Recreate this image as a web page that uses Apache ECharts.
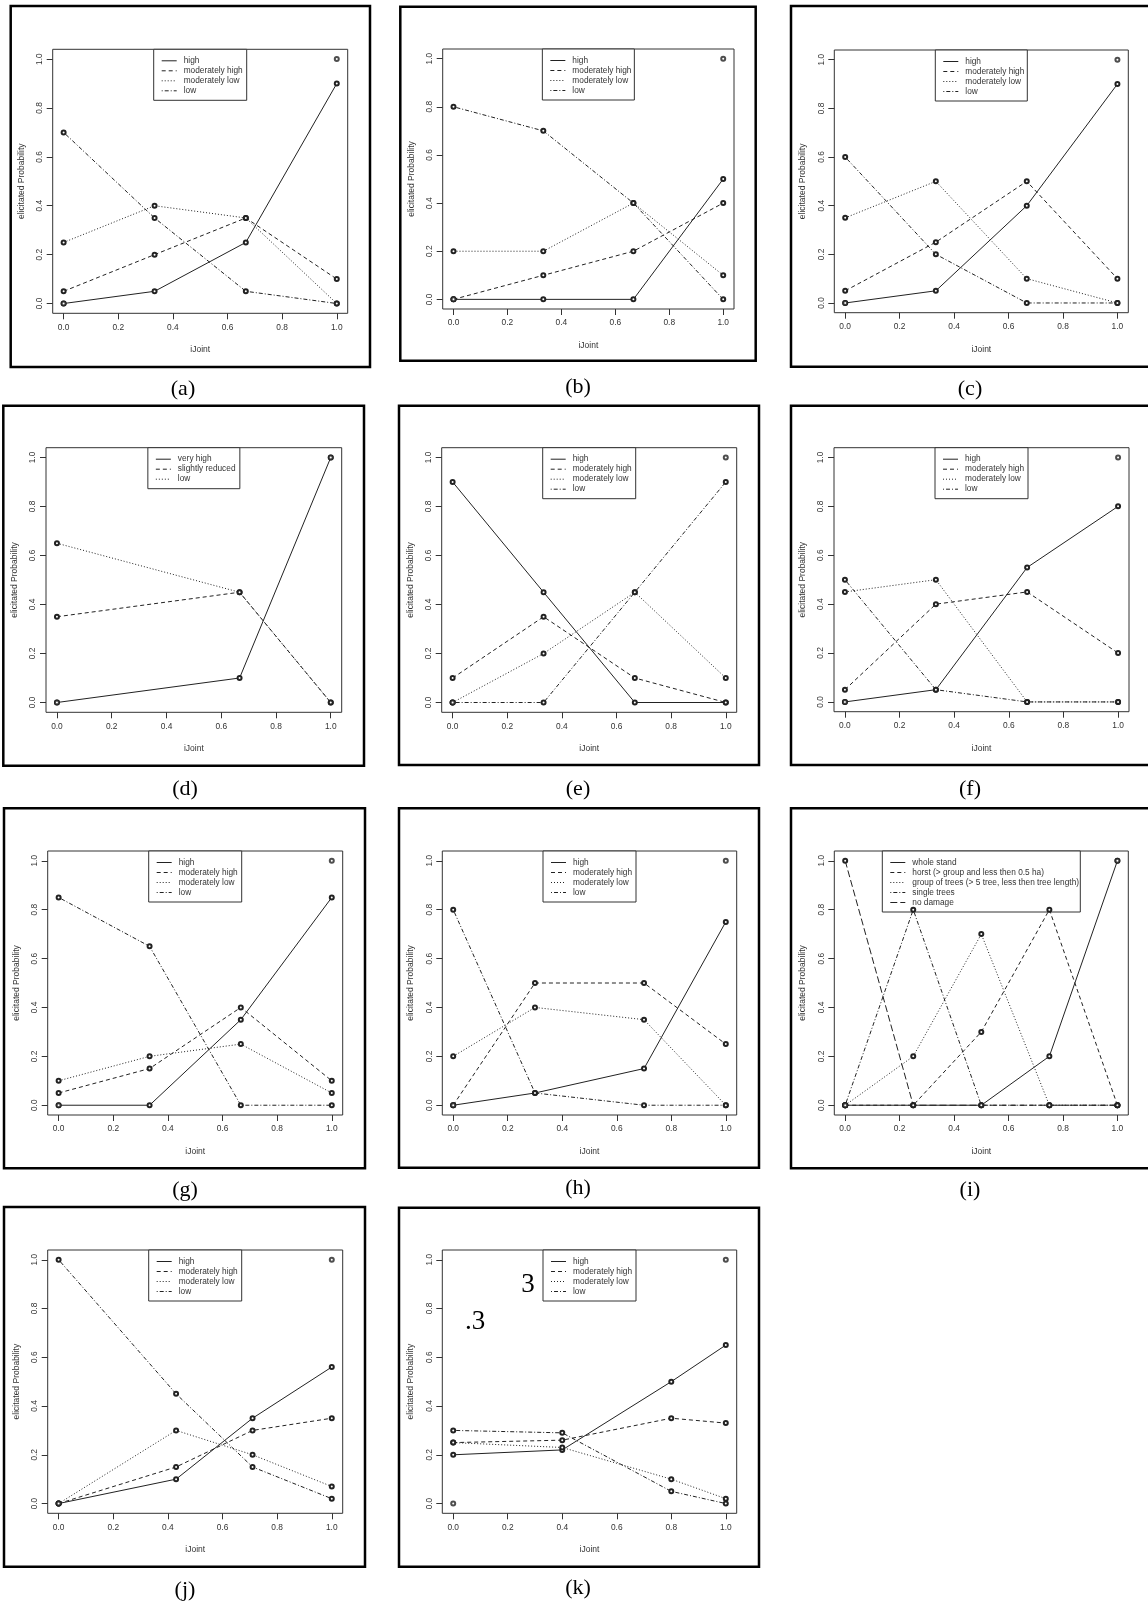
<!DOCTYPE html>
<html><head><meta charset="utf-8">
<script src="https://cdn.jsdelivr.net/npm/echarts@6/dist/echarts.min.js"></script>
<style>html,body{margin:0;padding:0;background:#fff}#c{width:1148px;height:1605px}</style>
</head><body><div id="c"></div>
<script>
// ---------- data ----------
const tickValues = [0, 0.2, 0.4, 0.6, 0.8, 1.0];
const cornerPts = [[0, 0], [1, 1]];
const namesHML = ['high', 'moderately high', 'moderately low', 'low'];
const namesD = ['very high', 'slightly reduced', 'low'];
const namesI = ['whole stand', 'horst (> group and less then 0.5 ha)', 'group of trees (> 5 tree, less then tree length)', 'single trees', 'no damage'];
const xThirds = [0, 0.333, 0.667, 1];
const xD = [0, 0.667, 1];
const xH = [0, 0.3, 0.7, 1];
const xI = [0, 0.25, 0.5, 0.75, 1];
const xJ = [0, 0.43, 0.71, 1];
const xK = [0, 0.4, 0.8, 1];

const aHigh = [0, 0.05, 0.25, 0.9];
const aModHigh = [0.05, 0.2, 0.35, 0.1];
const aModLow = [0.25, 0.4, 0.35, 0.0];
const aLow = [0.7, 0.35, 0.05, 0.0];

const bHigh = [0, 0, 0, 0.5];
const bModHigh = [0, 0.1, 0.2, 0.4];
const bModLow = [0.2, 0.2, 0.4, 0.1];
const bLow = [0.8, 0.7, 0.4, 0.0];

const cHigh = [0, 0.05, 0.4, 0.9];
const cModHigh = [0.05, 0.25, 0.5, 0.1];
const cModLow = [0.35, 0.5, 0.1, 0.0];
const cLow = [0.6, 0.2, 0.0, 0.0];

const dVeryHigh = [0, 0.1, 1.0];
const dSlightly = [0.35, 0.45, 0.0];
const dLow = [0.65, 0.45, 0.0];

const eHigh = [0.9, 0.45, 0, 0];
const eModHigh = [0.1, 0.35, 0.1, 0.0];
const eModLow = [0, 0.2, 0.45, 0.1];
const eLow = [0, 0, 0.45, 0.9];

const fHigh = [0, 0.05, 0.55, 0.8];
const fModHigh = [0.05, 0.4, 0.45, 0.2];
const fModLow = [0.45, 0.5, 0.0, 0.0];
const fLow = [0.5, 0.05, 0.0, 0.0];

const gHigh = [0, 0, 0.35, 0.85];
const gModHigh = [0.05, 0.15, 0.4, 0.1];
const gModLow = [0.1, 0.2, 0.25, 0.05];
const gLow = [0.85, 0.65, 0, 0];

const hHigh = [0, 0.05, 0.15, 0.75];
const hModHigh = [0, 0.5, 0.5, 0.25];
const hModLow = [0.2, 0.4, 0.35, 0.0];
const hLow = [0.8, 0.05, 0.0, 0.0];

const iWhole = [0, 0, 0, 0.2, 1.0];
const iHorst = [0, 0, 0.3, 0.8, 0];
const iGroup = [0, 0.2, 0.7, 0, 0];
const iSingle = [0, 0.8, 0, 0, 0];
const iNoDamage = [1.0, 0, 0, 0, 0];

const jHigh = [0, 0.1, 0.35, 0.56];
const jModHigh = [0, 0.15, 0.3, 0.35];
const jModLow = [0, 0.3, 0.2, 0.07];
const jLow = [1.0, 0.45, 0.15, 0.02];

const kHigh = [0.2, 0.22, 0.5, 0.65];
const kModHigh = [0.25, 0.26, 0.35, 0.33];
const kModLow = [0.25, 0.23, 0.1, 0.02];
const kLow = [0.3, 0.29, 0.05, 0.0];

const panelTags = ['(a)', '(b)', '(c)', '(d)', '(e)', '(f)', '(g)', '(h)', '(i)', '(j)', '(k)'];
const xAxisTitle = 'iJoint';
const yAxisTitle = 'elicitated Probability';

// ---------- styles ----------
const LTY = { solid: 'solid', dashed: [4, 3], dotted: [1, 2], dotdash: [1, 2, 4, 2], longdash: [7, 3] };
const ltyHML = [LTY.solid, LTY.dashed, LTY.dotted, LTY.dotdash];
const ltyD = [LTY.solid, LTY.dashed, LTY.dotted];
const ltyI = [LTY.solid, LTY.dashed, LTY.dotted, LTY.dotdash, LTY.longdash];

const panels = [
  { x: xThirds, names: namesHML, ys: [aHigh, aModHigh, aModLow, aLow], lty: ltyHML },
  { x: xThirds, names: namesHML, ys: [bHigh, bModHigh, bModLow, bLow], lty: ltyHML },
  { x: xThirds, names: namesHML, ys: [cHigh, cModHigh, cModLow, cLow], lty: ltyHML },
  { x: xD, names: namesD, ys: [dVeryHigh, dSlightly, dLow], lty: ltyD },
  { x: xThirds, names: namesHML, ys: [eHigh, eModHigh, eModLow, eLow], lty: ltyHML },
  { x: xThirds, names: namesHML, ys: [fHigh, fModHigh, fModLow, fLow], lty: ltyHML },
  { x: xThirds, names: namesHML, ys: [gHigh, gModHigh, gModLow, gLow], lty: ltyHML },
  { x: xH, names: namesHML, ys: [hHigh, hModHigh, hModLow, hLow], lty: ltyHML },
  { x: xI, names: namesI, ys: [iWhole, iHorst, iGroup, iSingle, iNoDamage], lty: ltyI },
  { x: xJ, names: namesHML, ys: [jHigh, jModHigh, jModLow, jLow], lty: ltyHML },
  { x: xK, names: namesHML, ys: [kHigh, kModHigh, kModLow, kLow], lty: ltyHML }
];

// layout: plot [left, top, width, height], box [x, y, w, h], tag [cx, cy], legend width
const layouts = [
  { plot: [52.7, 49.3, 295, 264], box: [10.7, 6, 359.3, 361], tag: [183, 389], lw: 93 },
  { plot: [442.7, 49, 291.3, 260], box: [400.3, 6.7, 355.4, 354], tag: [578, 387], lw: 92 },
  { plot: [834.3, 50, 294, 262.7], box: [791, 6, 370, 360.7], tag: [970, 389], lw: 92 },
  { plot: [46, 447.7, 295.7, 264.6], box: [3.3, 405.7, 360.7, 360], tag: [185, 789], lw: 92 },
  { plot: [441.7, 447.7, 295, 264.6], box: [399, 405.7, 360, 359.3], tag: [578, 789], lw: 93 },
  { plot: [834, 447.7, 295, 264], box: [791, 405.7, 370, 359.3], tag: [970, 789], lw: 93 },
  { plot: [47.7, 851, 295, 264], box: [4, 808.3, 361, 360], tag: [185, 1190], lw: 93 },
  { plot: [442.3, 851, 294.4, 264], box: [399, 808.3, 360, 359.4], tag: [578, 1188], lw: 93 },
  { plot: [834.3, 851, 294, 264], box: [791, 808.3, 370, 360], tag: [970, 1190], lw: 198 },
  { plot: [47.7, 1250, 295, 263.3], box: [4, 1207, 361, 359.7], tag: [185, 1590], lw: 93 },
  { plot: [442.3, 1250, 294.4, 263.3], box: [399, 1207.7, 360, 359], tag: [578, 1588], lw: 93 }
];

const INK = '#222';
const TXT = '#333';
const SANS = '"Liberation Sans", Arial, sans-serif';
const SERIF = '"Liberation Serif", "DejaVu Serif", serif';

const grids = [], xAxes = [], yAxes = [], series = [], graphics = [];

panels.forEach((p, i) => {
  const L = layouts[i];
  grids.push({ left: L.plot[0], top: L.plot[1], width: L.plot[2], height: L.plot[3],
    show: true, borderColor: '#333', borderWidth: 1, backgroundColor: 'transparent' });
  const tickCommon = { show: true, inside: false, customValues: tickValues, length: 6, lineStyle: { color: '#333', width: 1 } };
  xAxes.push({ type: 'value', gridIndex: i, min: -0.04, max: 1.04, position: 'bottom',
    axisLine: { show: false, onZero: false }, splitLine: { show: false },
    axisTick: tickCommon,
    axisLabel: { customValues: tickValues, formatter: v => v.toFixed(1), fontSize: 8.4, color: TXT, fontFamily: SANS, margin: 10 },
    name: xAxisTitle, nameLocation: 'middle', nameGap: 32,
    nameTextStyle: { fontSize: 8.5, color: TXT, fontFamily: SANS } });
  yAxes.push({ type: 'value', gridIndex: i, min: -0.04, max: 1.04, position: 'left',
    axisLine: { show: false, onZero: false }, splitLine: { show: false },
    axisTick: tickCommon,
    axisLabel: { customValues: tickValues, formatter: v => v.toFixed(1), fontSize: 8.4, color: TXT, fontFamily: SANS, margin: 9, rotate: 90 },
    name: yAxisTitle, nameLocation: 'middle', nameGap: 27, nameRotate: 90,
    nameTextStyle: { fontSize: 8.5, color: TXT, fontFamily: SANS } });

  p.ys.forEach((ys, k) => {
    series.push({ type: 'line', name: p.names[k], xAxisIndex: i, yAxisIndex: i,
      data: p.x.map((xv, j) => [xv, ys[j]]),
      symbol: 'emptyCircle', symbolSize: 4, showSymbol: true,
      lineStyle: { color: INK, width: 1, type: p.lty[k] },
      itemStyle: { color: INK, borderWidth: 0.9 }, emphasis: { disabled: true }, z: 3 });
  });
  series.push({ type: 'scatter', name: 'frame', xAxisIndex: i, yAxisIndex: i,
    data: cornerPts, symbol: 'emptyCircle', symbolSize: 4,
    itemStyle: { color: INK, borderWidth: 0.9 }, emphasis: { disabled: true }, z: 3 });

  // outer panel box
  graphics.push({ type: 'rect', shape: { x: L.box[0], y: L.box[1], width: L.box[2], height: L.box[3] },
    style: { fill: 'none', stroke: '#000', lineWidth: 2.5 }, z: 10 });
  // tag
  graphics.push({ type: 'text', x: L.tag[0], y: L.tag[1],
    style: { text: panelTags[i], font: '22px ' + SERIF, fill: '#000', textAlign: 'center', textVerticalAlign: 'middle' }, z: 10 });
  // legend
  const n = p.names.length;
  const lw = L.lw, lh = n * 10 + 11;
  const lx = L.plot[0] + L.plot[2] / 2 - lw / 2, ly = L.plot[1];
  const kids = [{ type: 'rect', shape: { x: 0, y: 0, width: lw, height: lh },
    style: { fill: '#fff', stroke: '#333', lineWidth: 1 } }];
  p.names.forEach((nm, k) => {
    const yy = 11.5 + k * 10;
    const dash = p.lty[k] === 'solid' ? null : p.lty[k];
    kids.push({ type: 'line', shape: { x1: 8, y1: yy, x2: 23, y2: yy },
      style: { stroke: INK, lineWidth: 1, lineDash: dash } });
    kids.push({ type: 'text', x: 30, y: yy,
      style: { text: nm, font: '8.3px ' + SANS, fill: TXT, textAlign: 'left', textVerticalAlign: 'middle' } });
  });
  graphics.push({ type: 'group', x: lx, y: ly, children: kids, z: 20 });
});

// stray text in panel (k)
graphics.push({ type: 'text', x: 528, y: 1285, style: { text: '3', font: '27px ' + SERIF, fill: '#000', textAlign: 'center', textVerticalAlign: 'middle' }, z: 30 });
graphics.push({ type: 'text', x: 475, y: 1322, style: { text: '.3', font: '27px ' + SERIF, fill: '#000', textAlign: 'center', textVerticalAlign: 'middle' }, z: 30 });

const chart = echarts.init(document.getElementById('c'), null, { renderer: 'canvas' });
chart.setOption({
  animation: false,
  backgroundColor: '#fff',
  grid: grids, xAxis: xAxes, yAxis: yAxes, series: series, graphic: graphics
});
</script></body></html>
